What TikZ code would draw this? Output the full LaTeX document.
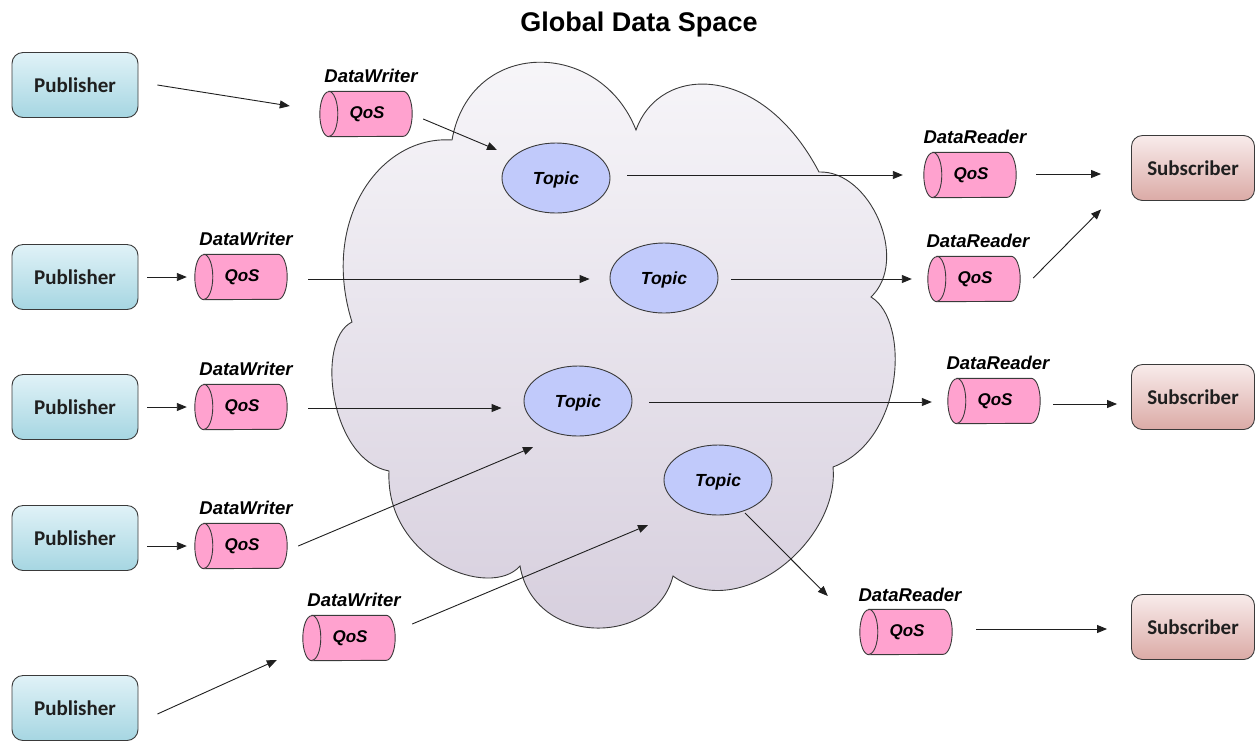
\documentclass[tikz,border=0pt]{standalone}
\usepackage{fontspec}
\setmainfont{Liberation Sans}
\newfontfamily\calib{Carlito}
\usetikzlibrary{arrows.meta,calc,backgrounds,shapes.geometric}

\definecolor{pubtop}{HTML}{E0F2F7}
\definecolor{pubbot}{HTML}{A6D6E2}
\definecolor{subtop}{HTML}{F8EBEB}
\definecolor{subbot}{HTML}{DBAAA6}
\definecolor{topicfill}{HTML}{C1CAFB}
\definecolor{drumfill}{HTML}{FFA2CF}
\definecolor{edge}{HTML}{3A3A3A}
\definecolor{cloudtop}{HTML}{F8F7FA}
\definecolor{cloudmid}{HTML}{E6E2EC}
\definecolor{cloudbot}{HTML}{D6CEDD}

% QoS drum: body with rounded right end and a visible left face
\newcommand\drawdrum[1]{%
  \filldraw[fill=drumfill,draw=edge,line width=0.9pt]
    ([xshift=9pt]#1.north west) -- ([xshift=-9pt]#1.north east)
    arc[start angle=90,end angle=-90,x radius=9pt,y radius=22.5pt]
    -- ([xshift=9pt]#1.south west)
    arc[start angle=270,end angle=90,x radius=9pt,y radius=22.5pt] -- cycle;
  \draw[draw=edge,line width=0.9pt]
    ([xshift=9pt]#1.north west)
    arc[start angle=90,end angle=-90,x radius=9pt,y radius=22.5pt];}

\begin{document}
\begin{tikzpicture}[x=1pt,y=1pt,
  pub/.style={rectangle,rounded corners=11pt,minimum width=126pt,minimum height=65pt,
    draw=edge,line width=0.9pt,top color=pubtop,bottom color=pubbot,
    font=\calib\bfseries\fontsize{21}{24}\selectfont,text=black!88},
  sub/.style={pub,minimum width=123pt,top color=subtop,bottom color=subbot},
  topic/.style={ellipse,minimum width=108pt,minimum height=70pt,inner sep=0pt,
    draw=edge,line width=0.9pt,fill=topicfill,text depth=0pt,
    font=\bfseries\itshape\fontsize{17.5}{20}\selectfont},
  drum/.style={rectangle,minimum width=92pt,minimum height=45pt,inner sep=0pt,
    font=\bfseries\itshape\fontsize{17}{19}\selectfont},
  tag/.style={inner sep=0pt,font=\bfseries\itshape\fontsize{18.5}{21}\selectfont},
  arr/.style={-{Triangle[length=10pt,width=8pt]},line width=0.9pt,draw=black!88},
  title/.style={inner sep=0pt,anchor=base,font=\bfseries\fontsize{27}{30}\selectfont}]

\useasboundingbox (0,0) rectangle (1256,-740);

\node[title] (title) at (639,-31) {Global Data Space};

% the shared cloud
\path[draw=edge,line width=0.9pt,top color=cloudtop,middle color=cloudmid,bottom color=cloudbot]
  (452,-140)
  .. controls (470,-38) and (600,-38) .. (636,-130)
  .. controls (660,-63) and (762,-63) .. (819,-172)
  .. controls (870,-170) and (910,-260) .. (871,-297)
  .. controls (910,-320) and (905,-440) .. (833,-467)
  .. controls (840,-540) and (740,-625) .. (673,-576)
  .. controls (655,-647) and (534,-647) .. (520,-566)
  .. controls (490,-600) and (385,-560) .. (389,-471)
  .. controls (330,-460) and (315,-340) .. (352,-322)
  .. controls (320,-220) and (380,-135) .. (452,-140) -- cycle;

% publishers and subscribers
\node[pub] (p1) at (75,-85) {Publisher};
\node[pub] (p2) at (75,-277) {Publisher};
\node[pub] (p3) at (75,-407) {Publisher};
\node[pub] (p4) at (75,-538) {Publisher};
\node[pub] (p5) at (75,-708) {Publisher};
\node[sub] (s1) at (1193,-168) {Subscriber};
\node[sub] (s2) at (1193,-397) {Subscriber};
\node[sub] (s3) at (1193,-627) {Subscriber};

% topics
\node[topic] (t1) at (556,-178) {Topic};
\node[topic] (t2) at (664,-278) {Topic};
\node[topic] (t3) at (578,-401) {Topic};
\node[topic] (t4) at (718,-480) {Topic};

% writers and readers
\node[drum] (dw1) at (366,-114) {\hspace{2pt}QoS};
\node[drum] (dw2) at (241,-277) {\hspace{2pt}QoS};
\node[drum] (dw3) at (241,-407) {\hspace{2pt}QoS};
\node[drum] (dw4) at (241,-546) {\hspace{2pt}QoS};
\node[drum] (dw5) at (349,-638) {\hspace{2pt}QoS};
\node[drum] (dr1) at (970,-175) {\hspace{2pt}QoS};
\node[drum] (dr2) at (974,-279) {\hspace{2pt}QoS};
\node[drum] (dr3) at (994,-401) {\hspace{2pt}QoS};
\node[drum] (dr4) at (906,-632) {\hspace{2pt}QoS};

\begin{pgfonlayer}{background}
  \foreach \d in {dw1,dw2,dw3,dw4,dw5,dr1,dr2,dr3,dr4} {\drawdrum{\d}}
\end{pgfonlayer}

\node[tag] (dw1t) at ([shift={(5,15.5)}]dw1.north) {DataWriter};
\node[tag] (dw2t) at ([shift={(5,15.5)}]dw2.north) {DataWriter};
\node[tag] (dw3t) at ([shift={(5,15.5)}]dw3.north) {DataWriter};
\node[tag] (dw4t) at ([shift={(5,15.5)}]dw4.north) {DataWriter};
\node[tag] (dw5t) at ([shift={(5,15.5)}]dw5.north) {DataWriter};
\node[tag] (dr1t) at ([shift={(5,15.5)}]dr1.north) {DataReader};
\node[tag] (dr2t) at ([shift={(4,15.5)}]dr2.north) {DataReader};
\node[tag] (dr3t) at ([shift={(4,15.5)}]dr3.north) {DataReader};
\node[tag] (dr4t) at ([shift={(4,14.5)}]dr4.north) {DataReader};

% data flow
\draw[arr] ([xshift=19]p1.east) -- ([shift={(-30,8)}]dw1.west);
\draw[arr] ([shift={(11,-5)}]dw1.east) -- ([shift={(-59,28)}]t1.center);
\draw[arr] ([shift={(17,3)}]t1.east) -- ([xshift=-21]dr1.west);
\draw[arr] ([shift={(20,1)}]dr1.east) -- ([shift={(-30,-6)}]s1.west);

\draw[arr] ([xshift=9]p2.east) -- ([xshift=-8]dw2.west);
\draw[arr] ([shift={(21,-2)}]dw2.east) -- ([shift={(-20,-1)}]t2.west);
\draw[arr] ([shift={(13,-1)}]t2.east) -- ([xshift=-16]dr2.west);
\draw[arr] ([shift={(13,1)}]dr2.east) -- ([shift={(-30,-8.5)}]s1.south west);

\draw[arr] ([xshift=9]p3.east) -- ([xshift=-8]dw3.west);
\draw[arr] ([shift={(21,-1)}]dw3.east) -- ([shift={(-22,-7)}]t3.west);
\draw[arr] ([shift={(17,-1)}]t3.east) -- ([shift={(-16,-1)}]dr3.west);
\draw[arr] ([shift={(13,-3)}]dr3.east) -- ([shift={(-14,-7)}]s2.west);

\draw[arr] ([shift={(9,-8)}]p4.east) -- ([xshift=-8]dw4.west);
\draw[arr] ([xshift=11]dw4.east) -- ([shift={(-45,-46)}]t3.center);

\draw[arr] ([shift={(19,-6)}]p5.east) -- ([shift={(-26,-22)}]dw5.west);
\draw[arr] ([shift={(17,14)}]dw5.east) -- ([shift={(-70,-45)}]t4.center);
\draw[arr] ([shift={(27,-33)}]t4.center) -- ([shift={(-32,36)}]dr4.west);
\draw[arr] ([shift={(24,3)}]dr4.east) -- ([shift={(-24,-2)}]s3.west);

\end{tikzpicture}
\end{document}
